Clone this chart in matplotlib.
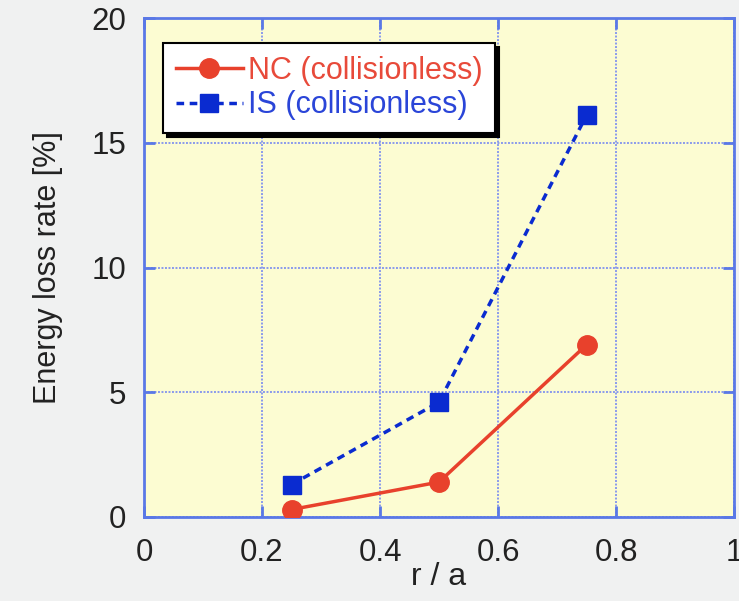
import matplotlib.pyplot as plt

plt.rcParams['font.family'] = ['Liberation Sans', 'DejaVu Sans']

r_a = [0.25, 0.5, 0.75]
nc_loss = [0.3, 1.4, 6.9]
is_loss = [1.3, 4.6, 16.1]
x_ticks = [0, 0.2, 0.4, 0.6, 0.8, 1]
x_labels = ['0', '0.2', '0.4', '0.6', '0.8', '1']
y_ticks = [0, 5, 10, 15, 20]

red = '#e8412c'
blue = '#0a2bd0'
edge = '#5a78e6'

fig = plt.figure(figsize=(7.39, 6.01), dpi=100, facecolor='#f0f1f1')
ax = fig.add_axes([144/739, 1 - 517/601, 590/739, 499/601])
ax.set_facecolor('#fcfcd2')

# lines
ax.plot(r_a, nc_loss, color=red, lw=2.5, marker='o', ms=14,
        label='NC (collisionless)', zorder=4)
ax.plot(r_a, is_loss, color=blue, lw=2.5, ls=(0, (2.2, 1.6)), marker='s', ms=13.5,
        label='IS (collisionless)', zorder=4)

ax.set_xlim(0, 1)
ax.set_ylim(0, 20)
ax.set_xticks(x_ticks)
ax.set_xticklabels(x_labels)
ax.set_yticks(y_ticks)
ax.grid(True, color='#8a9aec', ls=(0, (1, 0.8)), lw=1.4)
ax.set_axisbelow(True)

for s in ax.spines.values():
    s.set_color(edge)
    s.set_linewidth(2)
ax.tick_params(direction='in', length=8, width=2, color=edge,
               top=True, right=True, labelsize=22.5, labelcolor='#222222')
ax.tick_params(axis='x', pad=15)
ax.tick_params(axis='y', pad=13)

ax.set_xlabel('r / a', fontsize=23, color='#222222', labelpad=-4)
ax.set_ylabel('Energy loss rate [%]', fontsize=22, color='#222222', labelpad=20)

leg = ax.legend(loc='upper left', bbox_to_anchor=(0.032, 0.95), fontsize=22,
                frameon=True, fancybox=False,
                shadow={'color': 'black', 'alpha': 1, 'ox': 3, 'oy': -3},
                handlelength=2.2, handletextpad=0.15, borderpad=0.42,
                labelspacing=0.15, borderaxespad=0)
leg.get_frame().set_edgecolor('black')
leg.get_frame().set_linewidth(1.5)
leg.get_frame().set_alpha(1)
for t, c in zip(leg.get_texts(), ['#e84a3a', '#2a45d8']):
    t.set_color(c)

fig.savefig('out.png', dpi=100, facecolor=fig.get_facecolor())
